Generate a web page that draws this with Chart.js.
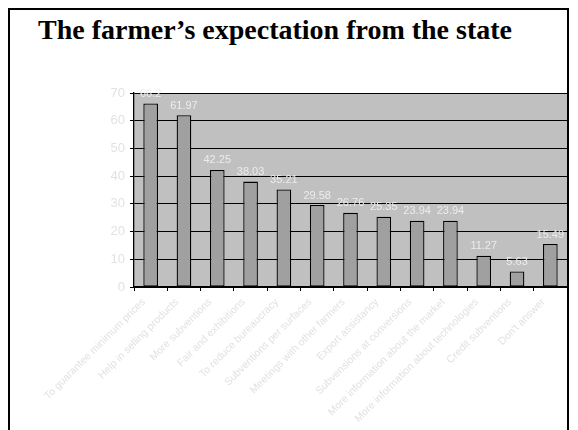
<!DOCTYPE html>
<html>
<head>
<meta charset="utf-8">
<script src="https://cdn.jsdelivr.net/npm/chart.js@4"></script>
<style>
  html, body { margin: 0; padding: 0; background: #fff; }
  body { width: 578px; height: 430px; position: relative; overflow: hidden; }
  #frame {
    position: absolute; left: 8px; top: 8px; width: 561px; height: 440px;
    border: 2px solid #000; box-sizing: border-box;
  }
  #title {
    position: absolute; left: 38px; top: 16px; margin: 0;
    font: bold 28px/28px "Liberation Serif", "Times New Roman", serif; color: #000;
    white-space: nowrap;
  }
  #wrap { position: absolute; left: 0; top: 0; width: 578px; height: 430px; }
</style>
</head>
<body>
<div id="frame"></div>
<h1 id="title">The farmer’s expectation from the state</h1>
<div id="wrap"><canvas id="chart"></canvas></div>
<script>
// categories and values
const categories = [
    'To guarantee minimum prices',
    'Help in selling products',
    'More subventions',
    'Fair and exhibitions',
    'To reduce bureaucracy',
    'Subventions per surfaces',
    'Meetings with other farmers',
    'Export assistancy',
    'Subvensions at conversions',
    'More information about the market',
    'More information about technologies',
    'Credit subventions',
    "Don't answer"
];
const values = [66.2, 61.97, 42.25, 38.03, 35.21, 29.58, 26.76, 25.35, 23.94, 23.94, 11.27, 5.63, 15.49];
const valueLabels = ['66.2', '61.97', '42.25', '38.03', '35.21', '29.58', '26.76', '25.35', '23.94', '23.94', '11.27', '5.63', '15.49'];
const yTicks = [0, 10, 20, 30, 40, 50, 60, 70];

// grey plot area behind the bars
const plotBackground = {
    id: 'plotBackground',
    beforeDraw(chart) {
        const { ctx, chartArea: a } = chart;
        ctx.save();
        ctx.fillStyle = '#c0c0c0';
        ctx.fillRect(a.left, a.top, a.right - a.left, a.bottom - a.top);
        ctx.restore();
    }
};

// value labels above each bar
const valueLabelPlugin = {
    id: 'valueLabels',
    afterDatasetsDraw(chart) {
        const ctx = chart.ctx;
        const meta = chart.getDatasetMeta(0);
        ctx.save();
        ctx.font = '11px "Liberation Sans", Arial, sans-serif';
        ctx.fillStyle = '#ececec';
        ctx.textAlign = 'center';
        ctx.textBaseline = 'bottom';
        meta.data.forEach((bar, i) => {
            ctx.fillText(valueLabels[i], bar.x, bar.y - 4);
        });
        ctx.restore();
    }
};

new Chart(document.getElementById('chart'), {
    type: 'bar',
    data: {
        labels: categories,
        datasets: [{
            data: values,
            backgroundColor: '#a0a0a0',
            borderColor: '#000',
            borderWidth: 1.3,
            borderSkipped: false,
            barPercentage: 0.44,
            categoryPercentage: 1
        }]
    },
    options: {
        responsive: true,
        maintainAspectRatio: false,
        animation: false,
        layout: { padding: { left: 0, right: 11, top: 93, bottom: 0 } },
        plugins: {
            legend: { display: false },
            tooltip: { enabled: false },
            title: { display: false }
        },
        scales: {
            x: {
                grid: {
                    offset: true,
                    drawOnChartArea: false,
                    drawTicks: true,
                    tickLength: 4,
                    color: '#000'
                },
                border: { display: true, color: '#000', width: 1.3 },
                ticks: {
                    autoSkip: false,
                    minRotation: 45,
                    maxRotation: 45,
                    color: '#e2e2e2',
                    padding: 5,
                    labelOffset: -7,
                    font: { family: '"Liberation Sans", Arial, sans-serif', size: 10.5 }
                },
                afterFit(scale) { scale.height = 143; }
            },
            y: {
                min: 0,
                max: 70,
                afterBuildTicks(scale) { scale.ticks = yTicks.map(v => ({ value: v })); },
                grid: {
                    color: '#000',
                    lineWidth: 1,
                    drawTicks: true,
                    tickLength: 4
                },
                border: { display: true, color: '#000', width: 1.3 },
                ticks: {
                    color: '#e2e2e2',
                    padding: 5,
                    font: { family: '"Liberation Sans", Arial, sans-serif', size: 13 }
                },
                afterFit(scale) { scale.width = 134; }
            }
        }
    },
    plugins: [plotBackground, valueLabelPlugin]
});
</script>
</body>
</html>
